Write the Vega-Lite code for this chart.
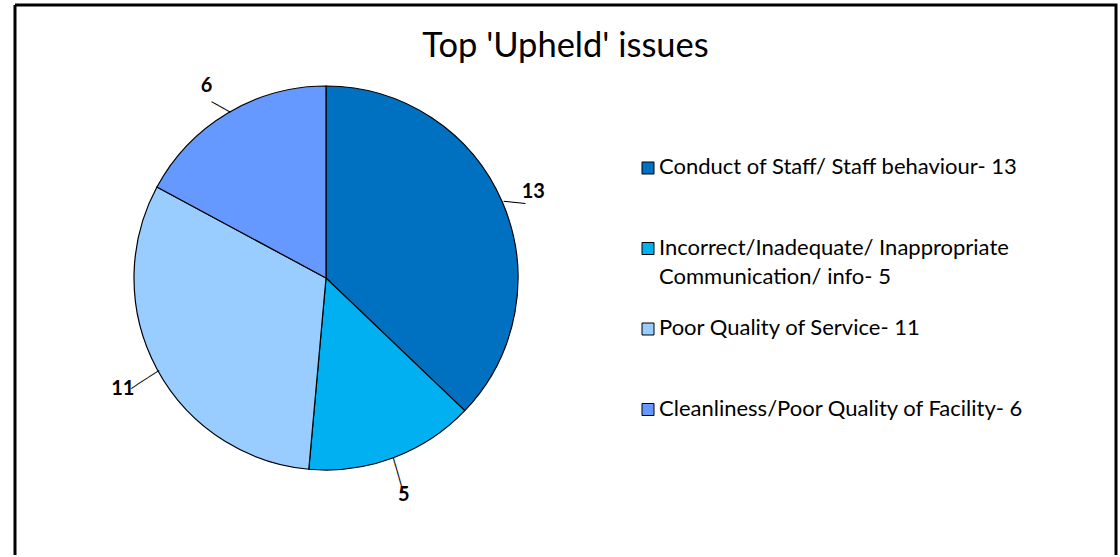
{
  "$schema": "https://vega.github.io/schema/vega-lite/v6.json",
  "width": 1101,
  "height": 550,
  "autosize": "none",
  "padding": {"left": 15, "top": 5, "right": 4, "bottom": 2},
  "background": "white",
  "view": {"stroke": "#000000", "strokeWidth": 3, "strokeJoin": "miter", "strokeDash": [1651, 1101, 550, 0]},
  "title": {
    "text": "Top 'Upheld' issues",
    "font": "Lato",
    "fontSize": 34.5,
    "fontWeight": "normal",
    "color": "black",
    "anchor": "middle",
    "baseline": "alphabetic",
    "offset": -86
  },
  "data": {
    "values": [
      {"category": "Conduct of Staff/ Staff behaviour- 13", "count": 13, "rank": 1},
      {"category": "Incorrect/Inadequate/ Inappropriate Communication/ info- 5", "count": 5, "rank": 2},
      {"category": "Poor Quality of Service- 11", "count": 11, "rank": 3},
      {"category": "Cleanliness/Poor Quality of Facility- 6", "count": 6, "rank": 4}
    ]
  },
  "layer": [
    {
      "mark": {"type": "arc", "x": 311, "y": 273, "outerRadius": 192, "stroke": "black", "strokeWidth": 1.2},
      "encoding": {
        "theta": {"field": "count", "type": "quantitative", "stack": true},
        "order": {"field": "rank", "type": "quantitative"},
        "color": {
          "field": "category",
          "type": "nominal",
          "sort": null,
          "scale": {
            "domain": [
              "Conduct of Staff/ Staff behaviour- 13",
              "Incorrect/Inadequate/ Inappropriate Communication/ info- 5",
              "Poor Quality of Service- 11",
              "Cleanliness/Poor Quality of Facility- 6"
            ],
            "range": ["#0070C0", "#00B0F0", "#99CCFF", "#6699FF"]
          },
          "legend": {
            "orient": "none",
            "legendX": 622,
            "legendY": 152,
            "title": null,
            "padding": 0,
            "symbolType": "square",
            "symbolSize": 144,
            "symbolStrokeColor": "black",
            "symbolStrokeWidth": 1,
            "symbolOpacity": 1,
            "labelFont": "Lato",
            "labelFontSize": 22,
            "labelColor": "black",
            "labelLimit": 0,
            "labelOffset": 0,
            "labelBaseline": "top",
            "rowPadding": 29.5,
            "gridAlign": "all",
            "labelExpr": "datum.label == 'Incorrect/Inadequate/ Inappropriate Communication/ info- 5' ? ['Incorrect/Inadequate/ Inappropriate', 'Communication/ info- 5'] : datum.label",
            "encode": {"labels": {"update": {"dy": {"value": -11}, "lineHeight": {"value": 29}}}}
          }
        }
      }
    },
    {
      "mark": {"type": "text", "x": 311, "y": 273, "radius": 205, "font": "DejaVu Sans Mono", "fontSize": 12, "color": "black", "align": "center", "baseline": "middle"},
      "encoding": {
        "theta": {"field": "count", "type": "quantitative", "stack": true},
        "order": {"field": "rank", "type": "quantitative"},
        "detail": {"field": "category", "type": "nominal"},
        "yOffset": {"value": 5},
        "text": {"condition": [{"test": "datum.rank == 2", "value": "─────"}, {"test": "datum.rank == 3", "value": "─────"}], "value": "───"},
        "size": {"condition": {"test": "datum.rank == 3", "value": 11}, "value": 12},
        "angle": {"condition": [{"test": "datum.rank == 2", "value": 74}, {"test": "datum.rank == 3", "value": 327}, {"test": "datum.rank == 4", "value": 29}], "value": 6}
      }
    },
    {
      "mark": {"type": "text", "x": 311, "y": 273, "radius": 228, "font": "Lato", "fontSize": 20, "fontWeight": "bold", "color": "black", "align": "center", "baseline": "middle"},
      "encoding": {
        "theta": {"field": "count", "type": "quantitative", "stack": true},
        "order": {"field": "rank", "type": "quantitative"},
        "detail": {"field": "category", "type": "nominal"},
        "text": {"field": "count", "type": "quantitative"},
        "xOffset": {"value": -2.4},
        "yOffset": {"value": 3.3}
      }
    }
  ]
}
